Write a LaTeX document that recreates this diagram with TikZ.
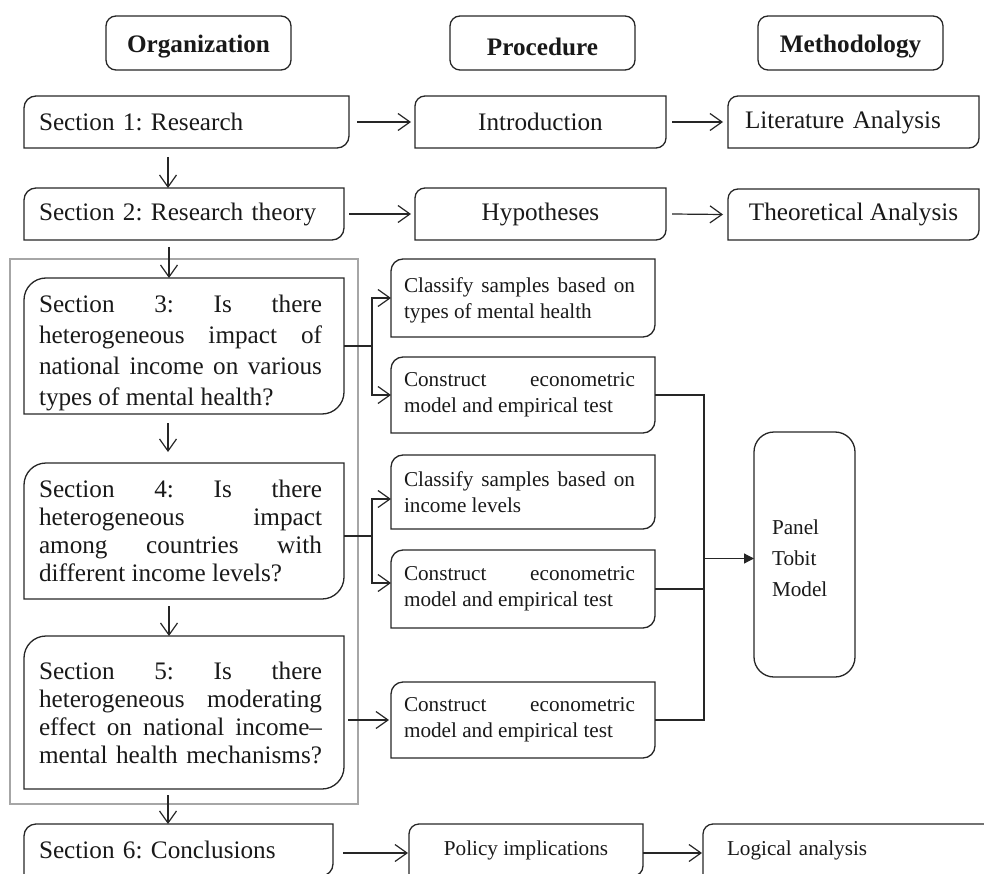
\documentclass[tikz,border=0pt]{standalone}
\usepackage{fontspec}
\setmainfont{Liberation Serif}
\usetikzlibrary{arrows.meta,calc}
\frenchspacing
\newcommand{\fa}{\fontsize{25.2}{31}\selectfont}
\newcommand{\fd}{\fontsize{25.2}{28}\selectfont}
\newcommand{\fb}{\fontsize{21.2}{25.7}\selectfont}
\newcommand{\fc}{\fontsize{21.2}{31}\selectfont}
% justified line: words separated by \hfill
\newcommand{\jl}[2]{\leavevmode\hbox to #1pt{#2}}
% text block lowered by #1 without changing its reported size
\newcommand{\tb}[3]{\raisebox{-#1pt}[\height][\depth]{\parbox[t]{#2pt}{\raggedright\parindent=0pt #3}}}
\newcommand{\lw}[2]{\raisebox{-#1pt}[\height][\depth]{#2}}
\newcommand{\snipbox}[2]{\draw[boxline] (#1.north east) -- ([yshift=#2]#1.south east) arc[start angle=0,end angle=-90,radius=#2] -- (#1.south west) -- ([yshift=-#2]#1.north west) arc[start angle=180,end angle=90,radius=#2] -- cycle;}
\tikzset{
 boxline/.style={draw=black!85, line width=1.3pt},
 bx/.style={inner sep=0pt, outer sep=0pt, anchor=north west, text=black!90},
 hdr/.style={bx, draw=black!85, line width=1.3pt, rounded corners=10pt, minimum width=185pt, minimum height=54pt, font=\fa\bfseries},
 arr/.style={draw=black!85, line width=1.2pt, -{Straight Barb[length=12pt,width=17pt]}},
 ln/.style={draw=black!85, line width=1.2pt},
 tri/.style={draw=black!85, line width=1.2pt, -{Triangle[length=10pt,width=10pt]}},
}
\begin{document}
\begin{tikzpicture}[x=1pt,y=1pt]
\useasboundingbox (0,0) rectangle (984,-874);
\clip (0,0) rectangle (984,-874);
% headers
\node[hdr] (hO) at (106,-16) {\lw{4}{Organization}};
\node[hdr] (hP) at (450,-16) {\lw{4}{Procedure}};
\node[hdr] (hM) at (758,-16) {\lw{4}{Methodology}};
% row 1 and 2
\node[bx, minimum width=325pt, minimum height=52pt, text width=295pt, align=left, font=\fa] (s1) at (24,-96) {Section 1: Research};
\node[bx, minimum width=251pt, minimum height=52pt, font=\fa] (intro) at (415,-96) {Introduction};
\node[bx, minimum width=251pt, minimum height=52pt, text width=217pt, align=left, font=\fa] (lit) at (728,-96) {Literature Analysis};
\node[bx, minimum width=320pt, minimum height=52pt, text width=290pt, align=left, font=\fa] (s2) at (24,-188) {Section 2: Research theory};
\node[bx, minimum width=251pt, minimum height=52pt, font=\fa] (hyp) at (415,-188) {Hypotheses};
\node[bx, minimum width=251pt, minimum height=51pt, font=\fa] (theo) at (728,-189) {Theoretical Analysis};
% sections
\node[bx, minimum width=320pt, minimum height=136pt, font=\fa] (s3) at (24,-278)
 {\tb{7}{290}{\jl{283}{Section\hfill 3:\hfill Is\hfill there}\\\jl{283}{heterogeneous\hfill impact\hfill of}\\\jl{283}{national\hfill income\hfill on\hfill various}\\types of mental health?}};
\node[bx, minimum width=320pt, minimum height=136pt, font=\fd] (s4) at (24,-463)
 {\tb{0}{290}{\jl{283}{Section\hfill 4:\hfill Is\hfill there}\\\jl{283}{heterogeneous\hfill impact}\\\jl{283}{among\hfill countries\hfill with}\\different income levels?}};
\node[bx, minimum width=320pt, minimum height=153pt, font=\fd] (s5) at (24,-636)
 {\tb{0}{290}{\jl{283}{Section\hfill 5:\hfill Is\hfill there}\\\jl{283}{heterogeneous\hfill moderating}\\\jl{283}{effect\hfill on\hfill national\hfill income--}\\\jl{283}{mental\hfill health\hfill mechanisms?}}};
\node[bx, minimum width=309pt, minimum height=52pt, text width=279pt, align=left, font=\fa] (s6) at (24,-824) {Section 6: Conclusions};
% right boxes
\node[bx, minimum width=264pt, minimum height=78pt, font=\fb] (c1) at (391,-259)
 {\tb{2}{238}{\jl{231}{Classify\hfill samples\hfill based\hfill on}\\types of mental health}};
\node[bx, minimum width=264pt, minimum height=76pt, font=\fb] (e1) at (391,-357)
 {\tb{0}{238}{\jl{231}{Construct\hfill econometric}\\model and empirical test}};
\node[bx, minimum width=264pt, minimum height=74pt, font=\fb] (c2) at (391,-455)
 {\tb{0}{238}{\jl{231}{Classify\hfill samples\hfill based\hfill on}\\income levels}};
\node[bx, minimum width=264pt, minimum height=78pt, font=\fb] (e2) at (391,-550)
 {\tb{0}{238}{\jl{231}{Construct\hfill econometric}\\model and empirical test}};
\node[bx, minimum width=264pt, minimum height=76pt, font=\fb] (e3) at (391,-682)
 {\tb{0}{238}{\jl{231}{Construct\hfill econometric}\\model and empirical test}};
\node[bx, draw=black!85, line width=1.3pt, rounded corners=20pt, minimum width=101pt, minimum height=245pt, font=\fc] (panel) at (754,-432) {\tb{4}{65}{Panel\\Tobit\\Model}};
\node[bx, minimum width=234pt, minimum height=52pt, font=\fc] (pol) at (409,-824) {Policy implications};
\node[bx, minimum width=300pt, minimum height=52pt, text width=252pt, align=left, font=\fc] (log) at (703,-824) {Logical analysis};
% box outlines
\snipbox{s1}{12pt}
\snipbox{s2}{12pt}
\snipbox{intro}{10pt}
\snipbox{lit}{10pt}
\snipbox{hyp}{10pt}
\snipbox{theo}{10pt}
\snipbox{s3}{22pt}
\snipbox{s4}{22pt}
\snipbox{s5}{22pt}
\snipbox{s6}{12pt}
\snipbox{c1}{12pt}
\snipbox{e1}{12pt}
\snipbox{c2}{12pt}
\snipbox{e2}{12pt}
\snipbox{e3}{12pt}
\snipbox{pol}{10pt}
\snipbox{log}{10pt}
% grey frame
\draw[draw=gray!70, line width=1.8pt] (10,-259) rectangle (358,-804);
% connectors
\draw[arr] ([xshift=8pt]s1.east) -- ([xshift=-4pt]intro.west);
\draw[arr] ([xshift=6pt]intro.east) -- ([xshift=-5pt]lit.west);
\draw[arr] ([xshift=5pt]s2.east) -- ([xshift=-4pt]hyp.west);
\draw[arr] ([xshift=6pt]hyp.east) -- ([xshift=-5pt]theo.west);
\draw[arr] ([xshift=144pt,yshift=-9pt]s1.south west) -- ([xshift=144pt]s2.north west);
\draw[arr] ([xshift=145pt,yshift=-7pt]s2.south west) -- ([xshift=145pt]s3.north west);
\draw[arr] ([xshift=144pt,yshift=-9pt]s3.south west) -- ([xshift=144pt,yshift=11pt]s4.north west);
\draw[arr] ([xshift=145pt,yshift=-7pt]s4.south west) -- ([xshift=145pt]s5.north west);
\draw[arr] ([xshift=144pt,yshift=-6pt]s5.south west) -- ([xshift=144pt]s6.north west);
\draw[arr] (s3.east) -- ++(28,0) |- (c1.west);
\draw[arr] (s3.east) -- ++(28,0) |- (e1.west);
\draw[arr] ([yshift=-5pt]s4.east) -- ++(28,0) |- ([yshift=-7pt]c2.west);
\draw[arr] ([yshift=-5pt]s4.east) -- ++(28,0) |- ([yshift=6pt]e2.west);
\draw[arr] ($(s5.east |- e3.west)+(4,0)$) -- ([xshift=-2pt]e3.west);
\coordinate (mx) at (704,0);
\draw[ln] (e1.east) -| (mx |- e3.east) -- (e3.east);
\draw[ln] (e2.east) -- (mx |- e2.east);
\draw[tri] ($(mx |- panel.west)+(0,-4)$) -- ([yshift=-4pt]panel.west);
\draw[arr] ([xshift=10pt,yshift=-3pt]s6.east) -- ([xshift=-1pt,yshift=-3pt]pol.west);
\draw[arr] ([yshift=-3pt]pol.east) -- ([xshift=-1pt,yshift=-3pt]log.west);
\end{tikzpicture}
\end{document}
